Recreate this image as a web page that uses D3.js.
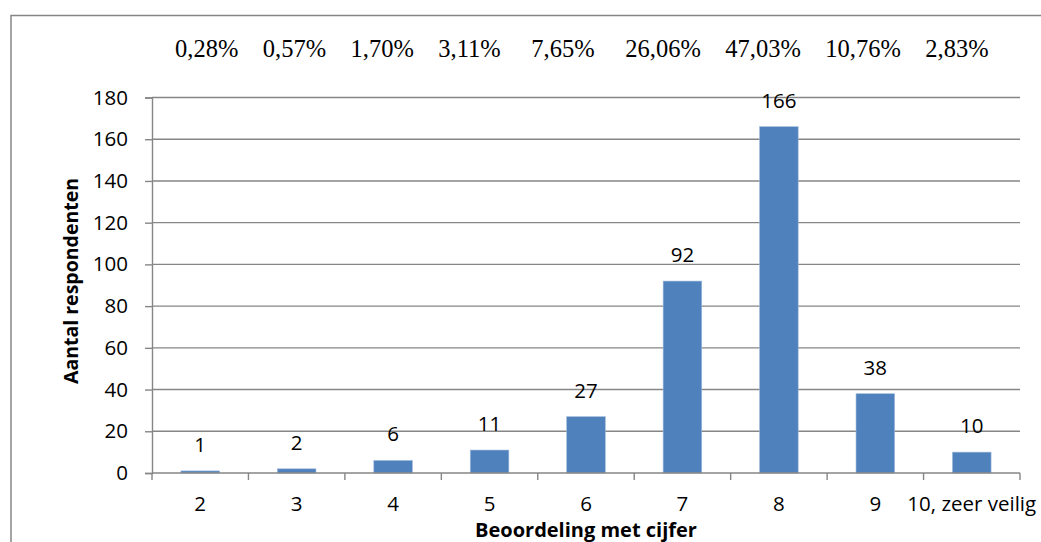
<!DOCTYPE html>
<html>
<head>
<meta charset="utf-8">
<script src="https://cdn.jsdelivr.net/npm/d3@7"></script>
<style>
  html, body { margin: 0; padding: 0; background: #fff; }
  svg { display: block; }
</style>
</head>
<body>
<svg id="chart" width="1041" height="542"></svg>
<script>
// Rating categories and number of respondents per rating
const categories = ["2", "3", "4", "5", "6", "7", "8", "9", "10, zeer veilig"];
const respondents = [1, 2, 6, 11, 27, 92, 166, 38, 10];
const percentages = ["0,28%", "0,57%", "1,70%", "3,11%", "7,65%", "26,06%", "47,03%", "10,76%", "2,83%"];
// spaces typed before each percentage in the header line
const pctSpaces = [0, 4, 4, 4, 5, 5, 4, 4, 4];
const yTicks = [0, 20, 40, 60, 80, 100, 120, 140, 160, 180];

const svg = d3.select("#chart");
const margin = { left: 152, right: 21, top: 97.5, bottom: 69 };
const W = 1041, H = 542;
const gridColor = "#868686";
const sansFont = "'Open Sans', 'Noto Sans', sans-serif";
const labelSize = 20.5;

// Outer chart frame (continues past the right and bottom edge)
svg.append("rect")
  .attr("x", 11).attr("y", 15.5)
  .attr("width", 1100).attr("height", 600)
  .attr("fill", "none").attr("stroke", gridColor).attr("stroke-width", 1.5);

const x = d3.scaleBand()
  .domain(categories)
  .range([margin.left, W - margin.right])
  .paddingInner(0.6)
  .paddingOuter(0.3);

const y = d3.scaleLinear()
  .domain([0, 180])
  .range([H - margin.bottom, margin.top]);

// Horizontal gridlines
svg.append("g")
  .selectAll("line")
  .data(yTicks.filter(d => d > 0))
  .join("line")
  .attr("x1", margin.left).attr("x2", W - margin.right)
  .attr("y1", d => y(d)).attr("y2", d => y(d))
  .attr("stroke", gridColor).attr("stroke-width", 1.4);

// Y axis
const yAxis = svg.append("g")
  .attr("transform", `translate(${margin.left},0)`)
  .call(d3.axisLeft(y).tickValues(yTicks).tickSize(7).tickPadding(17));
yAxis.select(".domain").attr("stroke", gridColor).attr("stroke-width", 1.4);
yAxis.selectAll(".tick line").attr("stroke", gridColor).attr("stroke-width", 1.4);
yAxis.selectAll(".tick text")
  .attr("font-family", sansFont).attr("font-size", labelSize).attr("fill", "#000");

// Bars
svg.append("g")
  .selectAll("rect")
  .data(respondents)
  .join("rect")
  .attr("x", (d, i) => x(categories[i]))
  .attr("width", x.bandwidth())
  .attr("y", d => y(d))
  .attr("height", d => y(0) - y(d))
  .attr("fill", "#4F81BD")
  .attr("stroke", "#9db7d8").attr("stroke-width", 0.6);

// X axis with tick marks at category boundaries
const step = x.step();
const xBoundaries = d3.range(categories.length + 1).map(i => margin.left + i * step);
svg.append("line")
  .attr("x1", margin.left).attr("x2", W - margin.right)
  .attr("y1", y(0)).attr("y2", y(0))
  .attr("stroke", gridColor).attr("stroke-width", 1.4);
svg.append("g")
  .selectAll("line")
  .data(xBoundaries)
  .join("line")
  .attr("x1", d => d).attr("x2", d => d)
  .attr("y1", y(0)).attr("y2", y(0) + 7)
  .attr("stroke", gridColor).attr("stroke-width", 1.4);
svg.append("g")
  .selectAll("text")
  .data(categories)
  .join("text")
  .attr("x", d => x(d) + x.bandwidth() / 2)
  .attr("y", 511)
  .attr("text-anchor", "middle")
  .attr("font-family", sansFont).attr("font-size", labelSize)
  .text(d => d);

// Value labels above the bars
svg.append("g")
  .selectAll("text")
  .data(respondents)
  .join("text")
  .attr("x", (d, i) => x(categories[i]) + x.bandwidth() / 2)
  .attr("y", d => y(d) - 19)
  .attr("text-anchor", "middle")
  .attr("font-family", sansFont).attr("font-size", labelSize)
  .text(d => d);

// Percentage row along the top
svg.append("text")
  .attr("x", 175).attr("y", 56.5)
  .attr("font-family", "'Liberation Serif', 'Times New Roman', serif")
  .attr("font-size", 24.5)
  .style("white-space", "pre")
  .text(percentages.map((p, i) => "\u00A0".repeat(pctSpaces[i]) + p).join(""));

// Axis titles
svg.append("text")
  .attr("x", 586).attr("y", 536.5)
  .attr("text-anchor", "middle")
  .attr("font-family", sansFont).attr("font-size", 20).attr("font-weight", "bold")
  .text("Beoordeling met cijfer");

svg.append("text")
  .attr("transform", "translate(78,281) rotate(-90)")
  .attr("text-anchor", "middle")
  .attr("font-family", sansFont).attr("font-size", 19.5).attr("font-weight", "bold")
  .text("Aantal respondenten");
</script>
</body>
</html>
